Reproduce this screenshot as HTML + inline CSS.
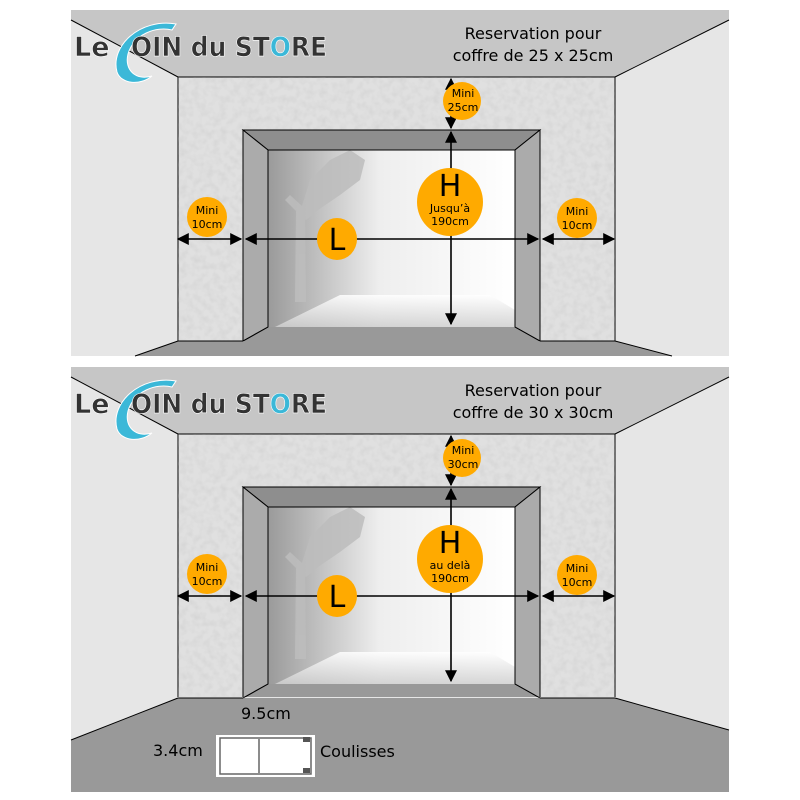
<!DOCTYPE html>
<html><head><meta charset="utf-8"><style>
html,body{margin:0;padding:0;background:#fff;width:800px;height:800px;overflow:hidden}
svg{display:block}
text{font-family:"DejaVu Sans","Liberation Sans",sans-serif}
</style></head><body>
<svg width="800" height="800" viewBox="0 0 800 800" xmlns="http://www.w3.org/2000/svg">
<defs>
<linearGradient id="op" x1="0" y1="0" x2="1" y2="0">
<stop offset="0" stop-color="#9a9a9a"/><stop offset="0.45" stop-color="#eeeeee"/><stop offset="1" stop-color="#fff"/>
</linearGradient>
<linearGradient id="fl" x1="0" y1="0" x2="0" y2="1">
<stop offset="0" stop-color="#fff"/><stop offset="1" stop-color="#cfcfcf"/>
</linearGradient>
<filter id="tex" x="0" y="0" width="100%" height="100%">
<feTurbulence type="fractalNoise" baseFrequency="0.15" numOctaves="2" seed="3"/>
<feColorMatrix type="matrix" values="0 0 0 0 0.5  0 0 0 0 0.5  0 0 0 0 0.5  0 0 0 -1.2 0.75"/>
</filter>
<marker id="ah" viewBox="0 0 10 10" refX="9" refY="5" markerWidth="7" markerHeight="7" markerUnits="userSpaceOnUse" orient="auto-start-reverse"><path d="M0,0 L10,5 L0,10 z" fill="#000"/></marker>
<marker id="ah2" viewBox="0 0 10 10" refX="9" refY="5" markerWidth="12" markerHeight="12" markerUnits="userSpaceOnUse" orient="auto-start-reverse"><path d="M0,0 L10,5 L0,10 z" fill="#000"/></marker>

<g id="room">
<rect x="71" y="0" width="658" height="346" fill="#e6e6e6"/>
<polygon points="71,0 729,0 729,10 615,67 178,67 71,10" fill="#c6c6c6"/>
<line x1="71" y1="10" x2="178" y2="67" stroke="#000" stroke-width="1"/>
<line x1="729" y1="10" x2="615" y2="67" stroke="#000" stroke-width="1"/>
<rect x="178" y="67" width="437" height="264" fill="#e0e0e0" stroke="#000" stroke-width="1"/>
<rect x="178" y="67" width="437" height="264" filter="url(#tex)" opacity="0.45"/>
<rect x="243" y="120" width="297" height="211" fill="#999"/>
<rect x="268" y="140" width="247" height="177" fill="url(#op)"/>
<polygon points="275,317 515,317 515,300 490,285 340,285" fill="url(#fl)" opacity="0.85"/>
<g fill="#bdbdbd" opacity="0.85">
<polygon points="296,200 305,200 306,292 295,292"/>
<polygon points="300,205 285,190 290,185 302,196 310,170 330,150 350,140 365,150 360,170 340,185 318,200 306,210"/>
</g>
<polygon points="243,120 540,120 515,140 268,140" fill="#8e8e8e" stroke="#000" stroke-width="1"/>
<polygon points="243,120 268,140 268,317 243,331" fill="#ababab" stroke="#000" stroke-width="1"/>
<polygon points="540,120 515,140 515,317 540,331" fill="#ababab" stroke="#000" stroke-width="1"/>
<g stroke="#000" stroke-width="1.6" marker-start="url(#ah2)" marker-end="url(#ah2)">
<line x1="178" y1="229" x2="241" y2="229"/>
<line x1="246" y1="229" x2="538" y2="229"/>
<line x1="543" y1="229" x2="614" y2="229"/>
<line x1="451" y1="69" x2="451" y2="118"/>
<line x1="451" y1="122" x2="451" y2="314"/>
</g>
<g fill="#ffaa00">
<circle cx="462" cy="91" r="19"/><ellipse cx="450" cy="192" rx="33" ry="34"/><ellipse cx="337" cy="229" rx="20" ry="21"/><circle cx="207" cy="207" r="20"/><circle cx="577" cy="208" r="20"/>
</g>
<g text-anchor="middle" fill="#000">
<text x="337" y="240" font-size="30">L</text>
<text x="450" y="186" font-size="30">H</text>
<text x="207" y="204" font-size="11">Mini</text><text x="207" y="218" font-size="11">10cm</text>
<text x="577" y="205" font-size="11">Mini</text><text x="577" y="219" font-size="11">10cm</text>
</g>
<g>
<path d="M176,14 C140,8 110,36 117,62 C121,74 140,76 152,66 C136,71 124,60 128,44 C134,24 156,16 172,20 Z" fill="#3bb8d8" stroke="#fff" stroke-width="1"/>
<text x="74" y="46" font-size="27" font-weight="bold" fill="#333" stroke="#fff" stroke-width="0.6" font-family="Liberation Sans, sans-serif">Le</text>
<text x="131" y="46" font-size="27" font-weight="bold" fill="#333" stroke="#fff" stroke-width="0.6" font-family="Liberation Sans, sans-serif" textLength="196" lengthAdjust="spacingAndGlyphs">OIN du ST<tspan fill="#3bb8d8">O</tspan>RE</text>
</g>
</g>
</defs>

<g transform="translate(0,10)"><use href="#room"/>
<polygon points="135,346 178,331 243,331 540,331 615,331 672,346" fill="#999"/>
<line x1="135" y1="346" x2="178" y2="331" stroke="#000"/>
<line x1="672" y1="346" x2="615" y2="331" stroke="#000"/>
<line x1="178" y1="331" x2="243" y2="331" stroke="#000"/>
<line x1="540" y1="331" x2="615" y2="331" stroke="#000"/>
<line x1="243" y1="331" x2="268" y2="317" stroke="#000"/>
<line x1="540" y1="331" x2="515" y2="317" stroke="#000"/>
<g text-anchor="middle" fill="#000">
<text x="533" y="29" font-size="16">Reservation pour</text>
<text x="533" y="51" font-size="16">coffre de 25 x 25cm</text>
<text x="463" y="87" font-size="11">Mini</text><text x="463" y="101" font-size="11">25cm</text>
<text x="450" y="202" font-size="11">Jusqu’à</text><text x="450" y="215" font-size="11">190cm</text>
</g></g>

<g transform="translate(0,367)">
<use href="#room"/>
<rect x="71" y="330" width="658" height="95" fill="#e6e6e6"/>
<polygon points="71,373 178,331 615,331 729,363 729,425 71,425" fill="#999"/>
<line x1="71" y1="373" x2="178" y2="331" stroke="#000"/>
<line x1="729" y1="363" x2="615" y2="331" stroke="#000"/>
<line x1="178" y1="331" x2="243" y2="331" stroke="#000"/>
<line x1="540" y1="331" x2="615" y2="331" stroke="#000"/>
<line x1="243" y1="331" x2="268" y2="317" stroke="#000"/>
<line x1="540" y1="331" x2="515" y2="317" stroke="#000"/>
<g text-anchor="middle" fill="#000">
<text x="533" y="29" font-size="16">Reservation pour</text>
<text x="533" y="51" font-size="16">coffre de 30 x 30cm</text>
<text x="463" y="87" font-size="11">Mini</text><text x="463" y="101" font-size="11">30cm</text>
<text x="450" y="202" font-size="11">au delà</text><text x="450" y="215" font-size="11">190cm</text>
</g>
<text x="241" y="352" font-size="16" fill="#000">9.5cm</text>
<text x="153" y="389" font-size="16" fill="#000">3.4cm</text>
<text x="320" y="390" font-size="16" fill="#000">Coulisses</text>
<rect x="216" y="368" width="99" height="42" fill="#fff"/>
<rect x="220" y="371" width="91" height="36" fill="none" stroke="#666" stroke-width="1.5"/>
<line x1="259" y1="372" x2="259" y2="406" stroke="#666" stroke-width="1.5"/>
<rect x="303" y="370" width="7" height="5" fill="#555"/><rect x="303" y="401" width="7" height="5" fill="#555"/>
</g>
</svg>
</body></html>
